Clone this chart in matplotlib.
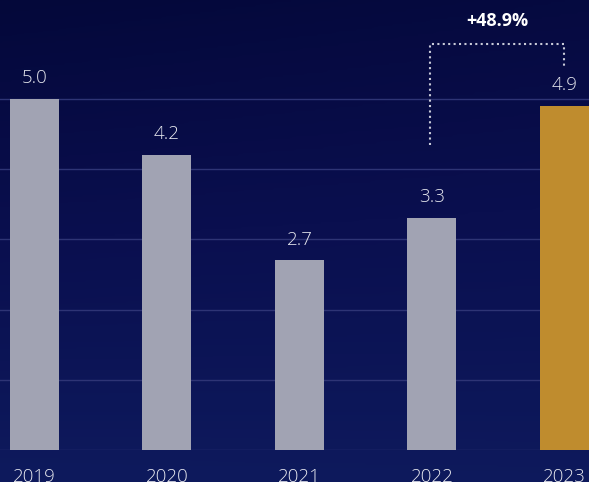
import numpy as np
import matplotlib
matplotlib.use("Agg")
import matplotlib.pyplot as plt
from matplotlib.colors import LinearSegmentedColormap

plt.rcParams['font.family'] = ['Open Sans', 'DejaVu Sans']

# Daten
years = ['2019', '2020', '2021', '2022', '2023']
values = [5.0, 4.2, 2.7, 3.3, 4.9]
change_label = '+48.9%'

grey = '#a1a3b3'
gold = '#bf8c2e'
text_col = '#e6e7ee'
bar_colors = [grey, grey, grey, grey, gold]

fig_dpi = 100
fig = plt.figure(figsize=(589 / fig_dpi, 482 / fig_dpi), dpi=fig_dpi)

# Hintergrund (Verlauf)
bg = fig.add_axes([0, 0, 1, 1])
bg.axis('off')
cmap = LinearSegmentedColormap.from_list('bg', ['#04083a', '#0a0f4f', '#0e1a5d'])
gx, gy = np.meshgrid(np.linspace(0, 1, 200), np.linspace(0, 1, 200))
grad = 0.75 * (1 - gy) * (1 - 0.5 * gx) + 0.25 * (1 - gy) + 0.2 * gx * (1 - gy) + 0.15 * gx
grad = np.clip(grad, 0, 1)
bg.imshow(grad, cmap=cmap, aspect='auto', extent=[0, 1, 0, 1], origin='lower')
bg.set_xlim(0, 1)
bg.set_ylim(0, 1)

# Balken
ax = fig.add_axes([0, 32 / 482, 1, 450 / 482])
ax.patch.set_alpha(0)
x = np.arange(len(years))
ax.bar(x, values, width=0.37, color=bar_colors, zorder=3)

ax.set_xlim(-0.26, 4.185)
ax.set_ylim(0, 6.41)

for yv in range(0, 6):
    ax.axhline(yv, color='#2e3475', lw=1, zorder=1)

for xi, v in zip(x, values):
    ax.text(xi, v + 0.17, f'{v:.1f}', ha='center', va='bottom',
            color=text_col, fontsize=13.5, fontweight='light')

ax.set_xticks(x)
ax.set_xticklabels(years, color=text_col, fontsize=13.5, fontweight='light')
ax.tick_params(axis='x', length=0, pad=13)
ax.set_yticks([])
for s in ax.spines.values():
    s.set_visible(False)

# Klammer mit Veränderung
bx0, bx1 = 2.985, 4.0
ax.plot([bx0, bx0, bx1, bx1], [4.34, 5.78, 5.78, 5.46], color='#c8cad8',
        lw=1.5, ls=(0, (1, 1.6)), zorder=4, clip_on=False)
ax.text((bx0 + bx1) / 2, 6.11, change_label, ha='center', va='center',
        color='white', fontsize=13, fontweight='bold')

fig.savefig('out.png', dpi=fig_dpi)
